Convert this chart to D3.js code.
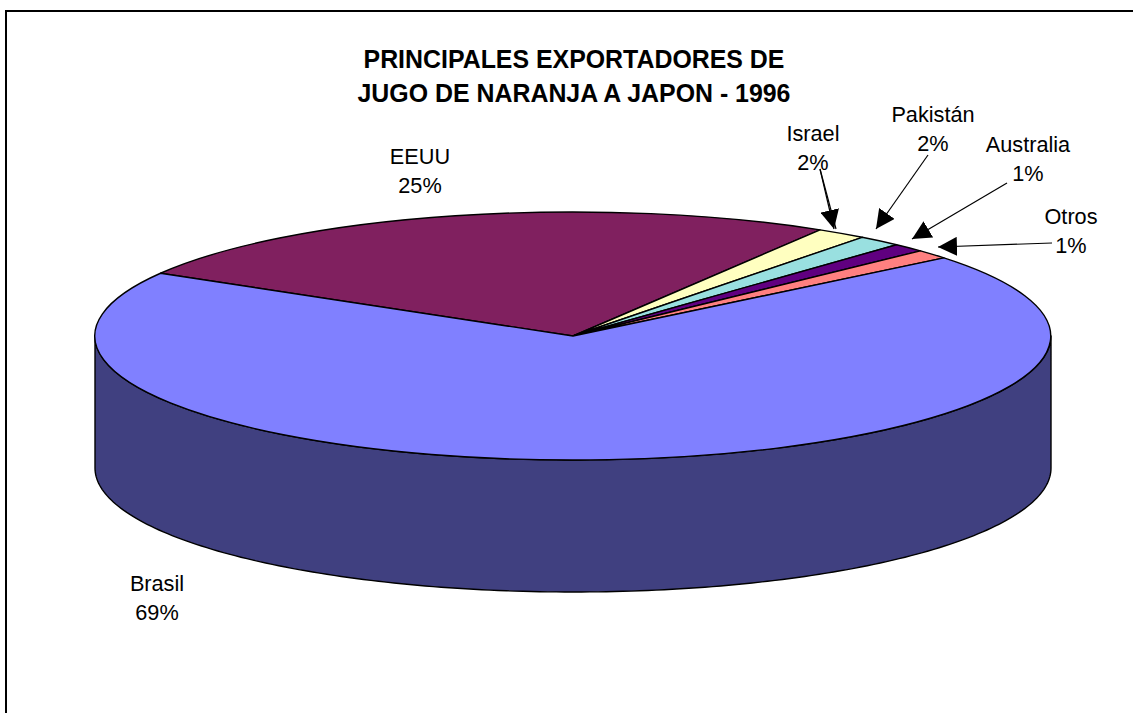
<!DOCTYPE html>
<html>
<head>
<meta charset="utf-8">
<script src="https://cdn.jsdelivr.net/npm/d3@7"></script>
<style>
  html, body { margin: 0; background: #fff; overflow: hidden; }
  svg { display: block; }
  text { font-family: "Liberation Sans", Arial, sans-serif; fill: #000; }
</style>
</head>
<body>
<div id="chart"></div>
<script>
// slices in drawing order, clockwise from the EEUU / Brasil edge
var categories = ["EEUU", "Israel", "Pakistán", "Australia", "Otros", "Brasil"];
var shares = [25.2, 1.7, 1.5, 1.1, 1.2, 69.3];
var shownPct = [25, 2, 2, 1, 1, 69];
var colors = ["#80205f", "#ffffc0", "#99e0e0", "#600080", "#ff8080", "#8080ff"];
var titleLines = ["PRINCIPALES EXPORTADORES DE", "JUGO DE NARANJA A JAPON - 1996"];

// label anchor for each category (centre x, baseline of first line)
var labelPos = {
  "EEUU": [420, 164], "Israel": [813, 141], "Pakistán": [933, 122],
  "Australia": [1028, 152], "Otros": [1071, 224], "Brasil": [157, 591]
};

// leader lines, from the label to the arrow tip (Israel's is doubled in the original)
var leaders = [
  { from: [820, 169], to: [834, 229], head: true },
  { from: [820, 169], to: [836, 229], head: false },
  { from: [928, 155], to: [876, 229], head: true },
  { from: [1007, 183], to: [912, 239], head: true },
  { from: [1052, 243], to: [938, 247], head: true }
];

var width = 1133, height = 713;
var cx = 573, cy = 336, rx = 478, ry = 124, depth = 132;

var svg = d3.select("#chart").append("svg")
  .attr("width", width)
  .attr("height", height);

// outer frame, only the left and top sides fall inside the picture
svg.append("path")
  .attr("d", d3.line()([[6, height + 5], [6, 11], [width + 5, 11]]))
  .attr("fill", "none")
  .attr("stroke", "#000")
  .attr("stroke-width", 2);

svg.append("g").selectAll("text")
  .data(titleLines)
  .enter().append("text")
  .attr("x", 574)
  .attr("y", function(d, i) { return 68 + i * 34; })
  .attr("text-anchor", "middle")
  .attr("font-size", 24.9)
  .attr("font-weight", "bold")
  .text(function(d) { return d; });

var startAngle = -59.6 * Math.PI / 180;
var pie = d3.pie().sort(null)
  .startAngle(startAngle)
  .endAngle(startAngle + 2 * Math.PI);
var arcs = pie(shares);

// x and y on the flattened ellipse for an angle (clockwise from top)
var xAt = d3.scaleLinear().domain([-1, 1]).range([cx - rx, cx + rx]);
var yAt = d3.scaleLinear().domain([-1, 1]).range([cy - ry, cy + ry]);

// side wall, the visible front half of the disc
var frontAngles = d3.range(90, 270.5, 1).map(function(a) { return a * Math.PI / 180; });
var wall = d3.line()
  .x(function(p) { return p[0]; })
  .y(function(p) { return p[1]; });
var wallPts = frontAngles.map(function(a) { return [xAt(Math.sin(a)), yAt(-Math.cos(a))]; })
  .concat(frontAngles.slice().reverse().map(function(a) { return [xAt(Math.sin(a)), yAt(-Math.cos(a)) + depth]; }));

svg.append("path")
  .attr("d", wall(wallPts) + "Z")
  .attr("fill", "#404080")
  .attr("stroke", "#000")
  .attr("stroke-width", 1.4)
  .attr("stroke-linejoin", "round");

// top of the disc: unit arc scaled to the ellipse
var arc = d3.arc().innerRadius(0).outerRadius(1);
svg.append("g")
  .attr("transform", "translate(" + cx + "," + cy + ") scale(" + rx + "," + ry + ")")
  .selectAll("path")
  .data(arcs)
  .enter().append("path")
  .attr("d", arc)
  .attr("fill", function(d, i) { return colors[i]; })
  .attr("stroke", "#000")
  .attr("stroke-width", 1.4)
  .attr("stroke-linejoin", "round")
  .attr("vector-effect", "non-scaling-stroke");

// labels
var labels = svg.append("g").selectAll("g")
  .data(categories)
  .enter().append("g");
labels.append("text")
  .attr("text-anchor", "middle")
  .attr("font-size", 21.7)
  .attr("x", function(d) { return labelPos[d][0]; })
  .attr("y", function(d) { return labelPos[d][1]; })
  .text(function(d) { return d; });
labels.append("text")
  .attr("text-anchor", "middle")
  .attr("font-size", 21.7)
  .attr("x", function(d) { return labelPos[d][0]; })
  .attr("y", function(d) { return labelPos[d][1] + 29; })
  .text(function(d, i) { return shownPct[i] + "%"; });

// arrow heads
svg.append("defs").append("marker")
  .attr("id", "head")
  .attr("viewBox", "0 0 20 20")
  .attr("refX", 20).attr("refY", 10)
  .attr("markerWidth", 19).attr("markerHeight", 19)
  .attr("markerUnits", "userSpaceOnUse")
  .attr("orient", "auto")
  .append("path")
  .attr("d", "M0,0L20,10L0,20Z")
  .attr("fill", "#000");

svg.append("g").selectAll("line")
  .data(leaders)
  .enter().append("line")
  .attr("x1", function(d) { return d.from[0]; })
  .attr("y1", function(d) { return d.from[1]; })
  .attr("x2", function(d) { return d.to[0]; })
  .attr("y2", function(d) { return d.to[1]; })
  .attr("stroke", "#000")
  .attr("stroke-width", 1.2)
  .attr("marker-end", function(d) { return d.head ? "url(#head)" : null; });
</script>
</body>
</html>
